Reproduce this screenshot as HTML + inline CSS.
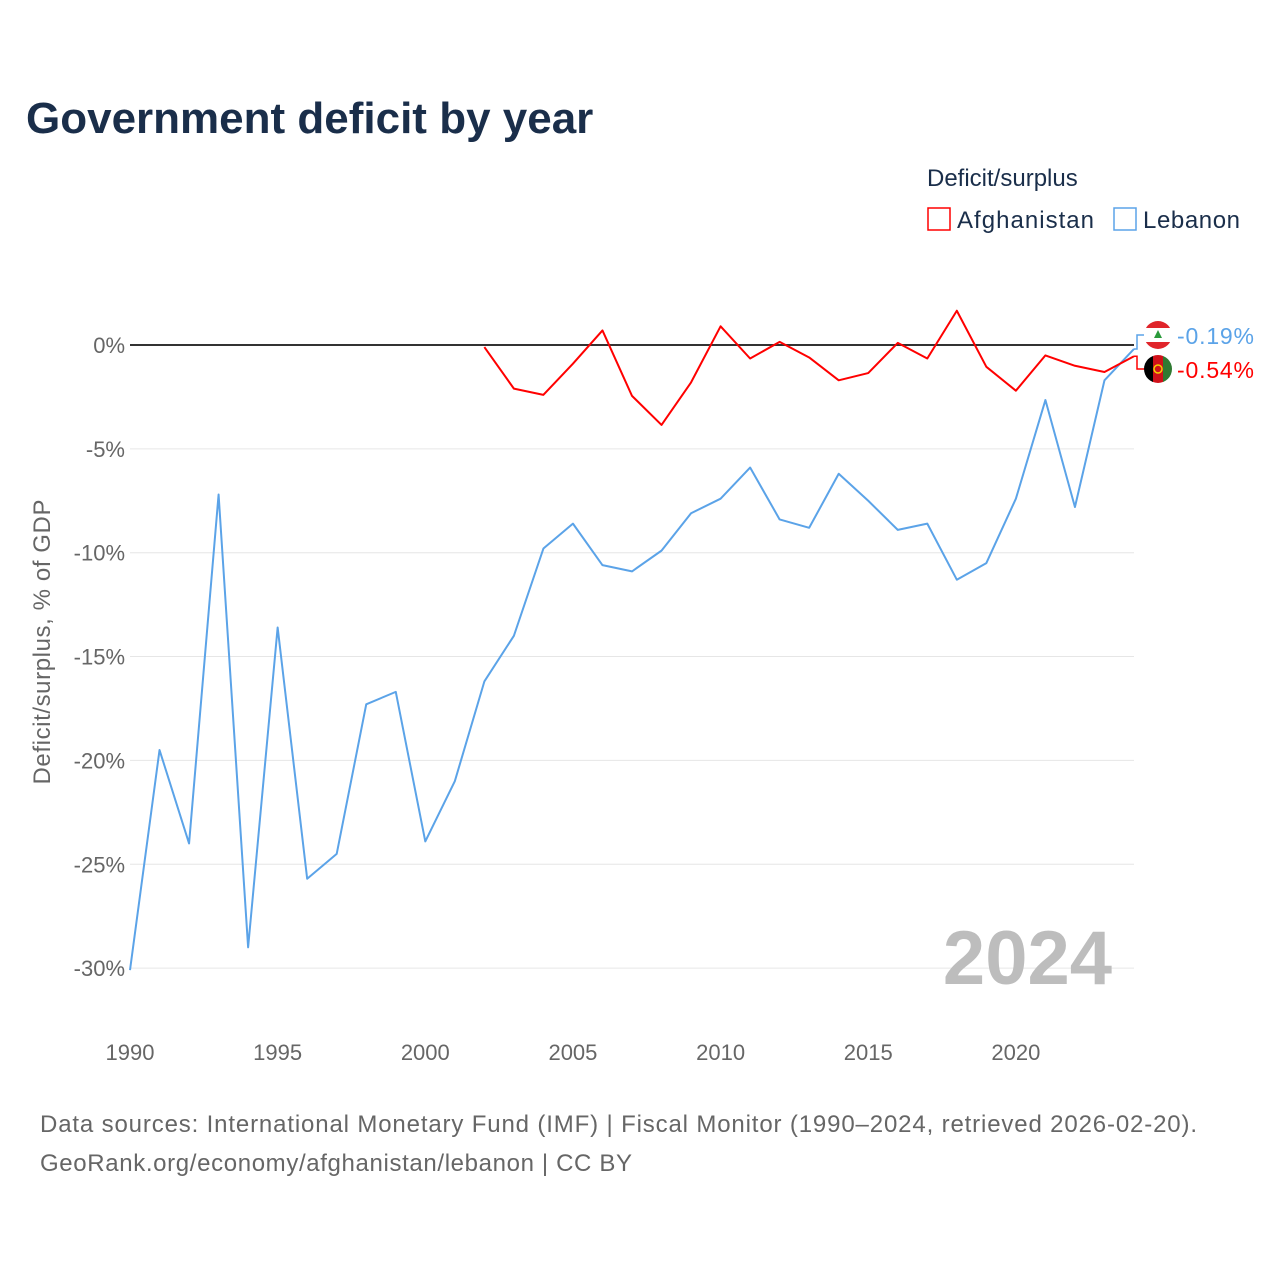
<!DOCTYPE html>
<html><head><meta charset="utf-8">
<style>
body{margin:0;background:#fff;font-family:"Liberation Sans",sans-serif;}
#wrap{position:relative;width:1280px;height:1280px;overflow:hidden;}
</style></head>
<body>
<div id="wrap">
<svg id="chart" width="1280" height="1280" xmlns="http://www.w3.org/2000/svg">
<defs>
<clipPath id="clipLb"><circle cx="1158" cy="335" r="14"/></clipPath>
<clipPath id="clipAf"><circle cx="1158" cy="369" r="14"/></clipPath>
</defs>
<text x="26" y="133" font-size="44" font-weight="bold" fill="#1a2e4a" font-family="Liberation Sans, sans-serif">Government deficit by year</text>
<text x="927" y="186" font-size="24" fill="#1a2e4a">Deficit/surplus</text>
<g>
<rect x="928" y="208" width="22" height="22" fill="none" stroke="#f00" stroke-width="1.5"/>
<text x="957" y="228" font-size="24" fill="#1a2e4a" textLength="137">Afghanistan</text></g>
<g>
<rect x="1114" y="208" width="22" height="22" fill="none" stroke="#5ba3e8" stroke-width="1.5"/>
<text x="1143" y="228" font-size="24" fill="#1a2e4a" textLength="97">Lebanon</text></g>
<g id="grid"></g><g id="yticks"></g><g id="xticks"></g><g id="lines"></g>
<text x="1112" y="984" font-size="76" font-weight="bold" fill="#bdbdbd" text-anchor="end">2024</text>
<text transform="translate(50,642) rotate(-90)" font-size="24" fill="#666" text-anchor="middle" textLength="285">Deficit/surplus, % of GDP</text>
<text x="40" y="1132" font-size="24" fill="#666" textLength="1157">Data sources: International Monetary Fund (IMF) | Fiscal Monitor (1990–2024, retrieved 2026-02-20).</text>
<text x="40" y="1171" font-size="24" fill="#666" textLength="592">GeoRank.org/economy/afghanistan/lebanon | CC BY</text>
</svg>
</div>
<script>
const years=[];for(let y=1990;y<=2024;y++)years.push(y);
const lebanon=[-30.1,-19.5,-24.0,-7.2,-29.0,-13.6,-25.7,-24.5,-17.3,-16.7,-23.9,-21.0,-16.2,-14.0,-9.8,-8.6,-10.6,-10.9,-9.9,-8.1,-7.4,-5.9,-8.4,-8.8,-6.2,-7.5,-8.9,-8.6,-11.3,-10.5,-7.4,-2.65,-7.8,-1.7,-0.19];
const afgYears=[2002,2003,2004,2005,2006,2007,2008,2009,2010,2011,2012,2013,2014,2015,2016,2017,2018,2019,2020,2021,2022,2023,2024];
const afghanistan=[-0.1,-2.1,-2.4,-0.9,0.7,-2.45,-3.85,-1.8,0.9,-0.65,0.15,-0.6,-1.7,-1.35,0.1,-0.65,1.65,-1.05,-2.2,-0.5,-1.0,-1.3,-0.54];
const yTicks=[0,-5,-10,-15,-20,-25,-30];
const xTicks=[1990,1995,2000,2005,2010,2015,2020];
const NS="http://www.w3.org/2000/svg";
const xs=y=>130+(y-1990)*(1134-130)/34;
const ys=v=>345-v*20.77;
function mk(tag,attrs,parent){const e=document.createElementNS(NS,tag);for(const k in attrs)e.setAttribute(k,attrs[k]);parent.appendChild(e);return e;}
const grid=document.getElementById('grid'),yt=document.getElementById('yticks'),xt=document.getElementById('xticks'),lines=document.getElementById('lines');
yTicks.forEach(v=>{
 const l=mk('line',{x1:130,x2:1134,y1:ys(v),y2:ys(v),stroke:v===0?'#333':'#e6e6e6','stroke-width':v===0?2:1},grid);
 
 
 const t=mk('text',{x:125,y:ys(v)+8,'font-size':22,fill:'#666','text-anchor':'end'},yt);
 t.textContent=v+'%';
 
 
});
xTicks.forEach(y=>{
 const t=mk('text',{x:xs(y),y:1060,'font-size':22,fill:'#666','text-anchor':'middle'},xt);
 t.textContent=y;
 
 
});
function line(xv,vals,color,name){
 const p=mk('polyline',{points:vals.map((v,i)=>xs(xv[i])+','+ys(v)).join(' '),fill:'none',stroke:color,'stroke-width':2,'stroke-linejoin':'round'},lines);
 
 
}
line(years,lebanon,'#5ba3e8','lebanon-line');
line(afgYears,afghanistan,'#f00','afghanistan-line');
function endLabel(val,ly,color,name,flag){
 const lx=xs(2024);
 const c=mk('polyline',{points:`${lx},${ys(val)} ${lx+3},${ys(val)} ${lx+3},${ly} ${lx+10},${ly}`,fill:'none',stroke:color,'stroke-width':1.5},lines);
 
 
 const g=mk('g',{'clip-path':flag==='lb'?'url(#clipLb)':'url(#clipAf)'},lines);
 
 
 if(flag==='lb'){
  mk('rect',{x:1144,y:ly-14,width:28,height:28,fill:'#fff'},g);
  mk('rect',{x:1144,y:ly-14,width:28,height:7,fill:'#e0252b'},g);
  mk('rect',{x:1144,y:ly+7,width:28,height:7,fill:'#e0252b'},g);
  mk('path',{d:`M1158 ${ly-5} l-4 8 h8 z`,fill:'#2a9a3a'},g);
 }else{
  mk('rect',{x:1144,y:ly-14,width:9,height:28,fill:'#000'},g);
  mk('rect',{x:1153,y:ly-14,width:10,height:28,fill:'#d0111a'},g);
  mk('rect',{x:1163,y:ly-14,width:9,height:28,fill:'#2f7a32'},g);
  mk('circle',{cx:1158,cy:ly,r:4,fill:'none',stroke:'#f5d000','stroke-width':1.5},g);
 }
 const t=mk('text',{x:1177,y:ly+9,'font-size':23,fill:color,textLength:77},lines);
 t.textContent=val.toFixed(2)+'%';
 
 
}
endLabel(lebanon[lebanon.length-1],335,'#5ba3e8','lebanon-end','lb');
endLabel(afghanistan[afghanistan.length-1],369,'#f00','afghanistan-end','af');
</script>
</body></html>
